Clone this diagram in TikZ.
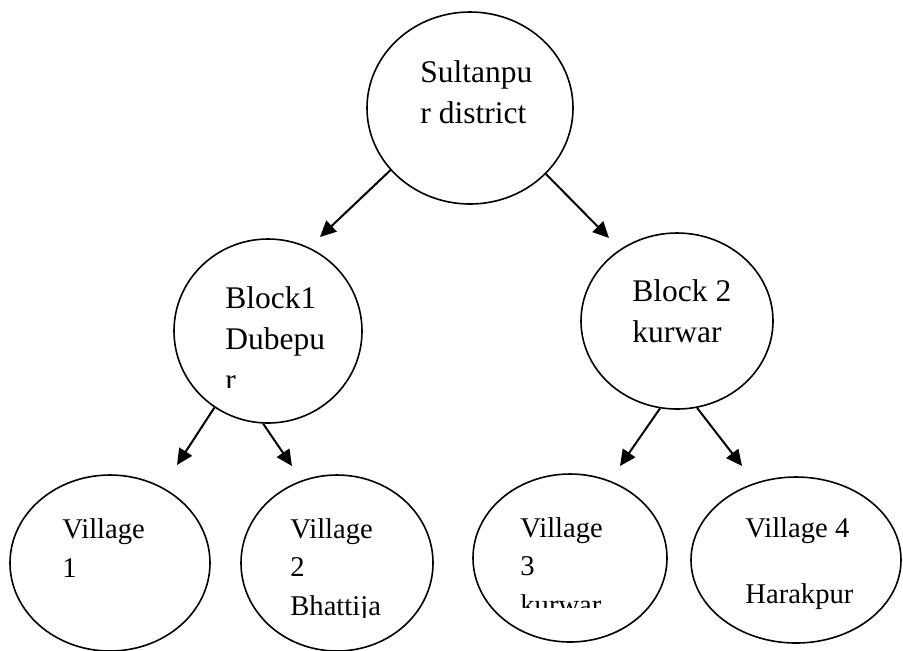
\documentclass[tikz,border=0pt]{standalone}
\usepackage{fontspec}
\setmainfont{Liberation Serif}
\usetikzlibrary{shapes.geometric,arrows.meta}
\tikzset{oval/.style={draw, ellipse, line width=0.8pt, inner sep=0pt},
  lbl/.style={anchor=base west, align=left, inner sep=0pt, font=\fontsize{15.75}{20.5}\selectfont},
  vlbl/.style={lbl, font=\fontsize{14.3}{19.25}\selectfont},
  arr/.style={-{Triangle[length=8pt,width=7.5pt]}, line width=1pt}}

\begin{document}
\begin{tikzpicture}[x=0.5pt,y=-0.5pt]
  \useasboundingbox (0,0) rectangle (903,650);
  % district and blocks
  \node[oval, minimum width=103pt, minimum height=96pt] (dist) at (470,108) {};
  \node[oval, minimum width=94pt, minimum height=92pt] (b1) at (268,331) {};
  \node[oval, minimum width=96pt, minimum height=88pt] (b2) at (677,321) {};
  % villages
  \node[oval, minimum width=100pt, minimum height=88pt] (v1) at (110,563) {};
  \node[oval, minimum width=96pt, minimum height=88pt] (v2) at (337,563) {};
  \node[oval, minimum width=97pt, minimum height=84pt] (v3) at (570,558) {};
  \node[oval, minimum width=105pt, minimum height=83pt] (v4) at (796,560) {};

  % labels (anchored on their last line)
  \node[lbl] (distlbl) at (420,123) {Sultanpu\\r district};
  \begin{scope}
    \clip (150,250) rectangle (370,387);
    \node[lbl] (b1lbl) at (225,390) {Block1\\Dubepu\\r};
  \end{scope}
  \node[lbl] (b2lbl) at (632,342) {Block 2\\kurwar};
  \node[vlbl] (v1lbl) at (62,577) {Village\\1};
  \begin{scope}
    \clip (250,480) rectangle (440,617);
    \node[vlbl] (v2lbl) at (290,615) {Village\\2\\Bhattija};
  \end{scope}
  \begin{scope}
    \clip (480,480) rectangle (660,607);
    \node[vlbl] (v3lbl) at (520,614) {Village\\3\\kurwar};
  \end{scope}
  \node[vlbl] (v4lbl) at (745,603) {Village 4\\[13.75pt]Harakpur};

  % arrows
  \coordinate (b1tip) at (320,237);
  \coordinate (b2tip) at (609,238);
  \coordinate (v1tip) at (177,465);
  \coordinate (v2tip) at (292,466);
  \coordinate (v3tip) at (620,466);
  \coordinate (v4tip) at (742,466);
  \draw[arr] (dist.218) -- (b1tip);
  \draw[arr] (dist.-41) -- (b2tip);
  \draw[arr] (b1.235) -- (v1tip);
  \draw[arr] (b1.267) -- (v2tip);
  \draw[arr] (b2.259) -- (v3tip);
  \draw[arr] (b2.283) -- (v4tip);
\end{tikzpicture}
\end{document}
